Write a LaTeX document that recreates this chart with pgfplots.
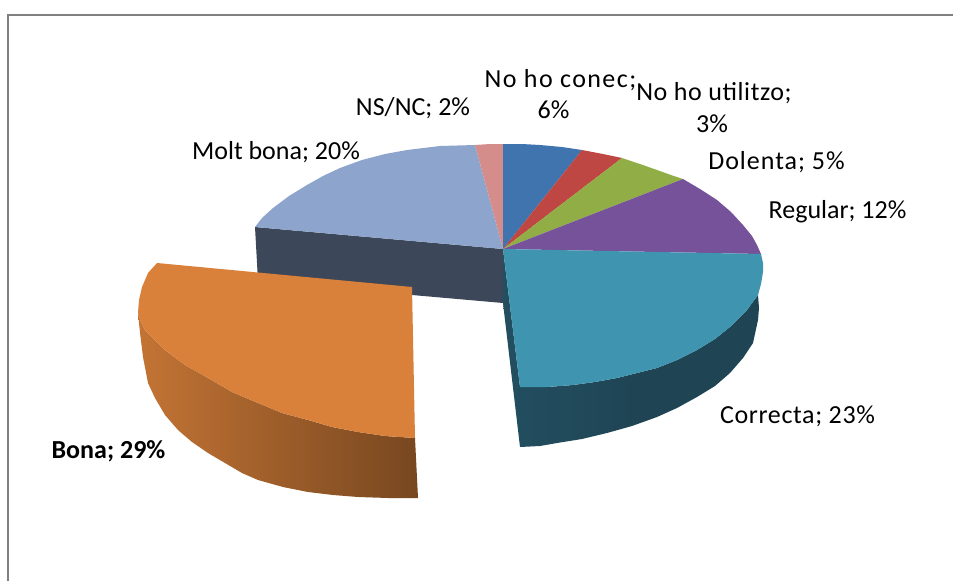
\documentclass[border=0pt]{standalone}
\usepackage{fontspec}
\setmainfont{Carlito}
\usepackage{pgfplots}
\pgfplotsset{compat=1.18}
\definecolor{cMolt}{HTML}{8DA5CD}
\definecolor{cMoltS}{HTML}{3C4859}
\definecolor{cNS}{HTML}{D48D8B}
\definecolor{cBlue}{HTML}{3F74AE}
\definecolor{cRed}{HTML}{BE4643}
\definecolor{cGreen}{HTML}{90AE45}
\definecolor{cPurple}{HTML}{75529A}
\definecolor{cTeal}{HTML}{3F95B0}
\definecolor{cTealS}{HTML}{1F4555}
\definecolor{cOrange}{HTML}{D9813A}
\newcommand{\ls}[1]{\addfontfeature{LetterSpace=#1}}
\begin{document}
\begin{tikzpicture}
\begin{axis}[at={(0,0)},anchor=south west,width=953pt,height=581pt,scale only axis,
  xmin=0,xmax=953,ymin=0,ymax=581,y dir=reverse,axis lines=none,clip=true,
  nodes={font=\fontsize{26}{30}\selectfont,inner sep=0pt}]
\addplot[draw=none,fill=white,forget plot] coordinates {(0,0)(953,0)(953,581)(0,581)} --cycle;
% frame
\addplot[draw=black!50,line width=2.2pt,forget plot] coordinates {(8,581)(8,15)(953,15)};
% Molt bona side
\addplot[draw=none,fill=cMoltS] coordinates {(255,227)(503,249)(503,303)(412,295)(258,281)} --cycle;
% Molt bona
\addplot[draw=none,fill=cMolt] coordinates {(503,249)(255,227)(262,218)(273,208)(289,196)(307,185)(323,176)(340,168)(362,160)(385,154)(407,150)(440,146)(475,145)} --cycle;
\addplot[draw=none,fill=cNS] coordinates {(503,249)(475,145)(490,144)(503,144)} --cycle;
\addplot[draw=none,fill=cBlue] coordinates {(503,249)(503,144)(522,144)(540,145)(562,147)(582,150)} --cycle;
\addplot[draw=none,fill=cRed] coordinates {(503,249)(582,150)(603,154)(622,158)} --cycle;
\addplot[draw=none,fill=cGreen] coordinates {(503,249)(622,158)(640,164)(657,170)(671,175)(683,179)} --cycle;
\addplot[draw=none,fill=cPurple] coordinates {(503,249)(683,179)(700,189)(717,200)(731,212)(743,225)(752,236)(757,245)(761,254)} --cycle;
% Correcta side
\addplot[draw=none,left color=cTealS!88!cTeal,right color=cTealS,middle color=cTealS] coordinates {(503,249)(520,387)(547,387)(573,385)(595,382)(617,378)(637,373)(657,368)(677,360)(697,350)(715,339)(730,327)(747,310)(758,295)(759,308)(758,320)(753,343)(743,358)(730,373)(715,386)(697,397)(677,408)(657,417)(632,426)(607,433)(582,439)(557,443)(540,446)(520,447)(503,303)} --cycle;
% Correcta
\addplot[draw=none,fill=cTeal] coordinates {(503,249)(761,254)(763,263)(763,272)(761,284)(758,295)(747,310)(730,327)(715,339)(697,350)(677,360)(657,368)(637,373)(617,378)(595,382)(573,385)(547,387)(520,387)} --cycle;
% Bona side
\addplot[draw=none,left color=cOrange!90!black,right color=cOrange!55!black] coordinates {(138,313)(140,333)(143,357)(148,383)(155,398)(165,415)(178,430)(192,442)(208,453)(225,463)(242,473)(258,480)(283,487)(308,492)(333,495)(358,497)(388,498)(418,498)(415,438)(385,436)(358,432)(332,427)(308,420)(282,413)(258,403)(232,392)(208,378)(185,365)(165,350)(153,338)(145,330)(141,322)} --cycle;
% Bona
\addplot[draw=none,fill=cOrange] coordinates {(157,263)(412,287)(415,438)(385,436)(358,432)(332,427)(308,420)(282,413)(258,403)(232,392)(208,378)(185,365)(165,350)(153,338)(145,330)(141,322)(138,313)(139,300)(142,287)(148,273)} --cycle;
% labels
\node at (axis cs:560.5,80) {\ls{5.5}No ho conec;};
\node at (axis cs:553.5,110) {6\%};
\node at (axis cs:714,93) {\ls{2.3}No ho utilitzo;};
\node at (axis cs:712,124) {3\%};
\node at (axis cs:413,108) {NS/NC; 2\%};
\node at (axis cs:276,152) {Molt bona; 20\%};
\node at (axis cs:776.5,162) {\ls{3.8}Dolenta; 5\%};
\node at (axis cs:837.5,212) {Regular; 12\%};
\node at (axis cs:797.5,416) {\ls{2.4}Correcta; 23\%};
\node[font=\fontsize{26}{30}\selectfont\bfseries] at (axis cs:108.5,451) {Bona; 29\%};
\end{axis}
\end{tikzpicture}
\end{document}
